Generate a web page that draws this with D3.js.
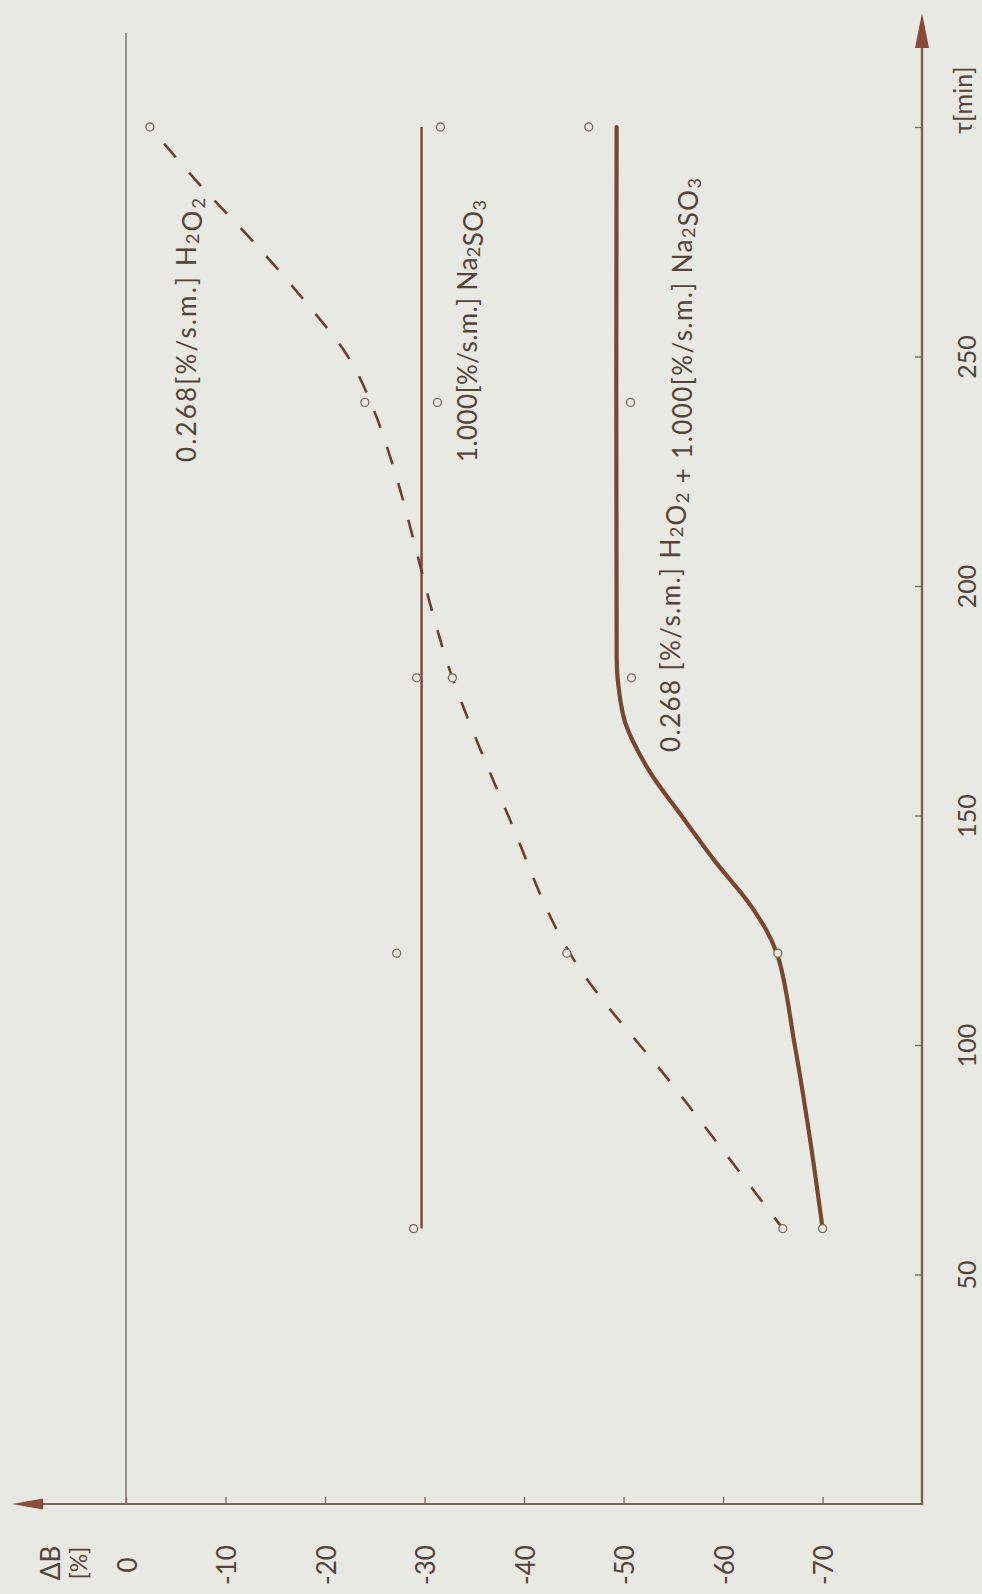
<!DOCTYPE html>
<html>
<head>
<meta charset="utf-8">
<script src="https://cdn.jsdelivr.net/npm/d3@7/dist/d3.min.js"></script>
<style>
  html, body { margin: 0; padding: 0; background: #e9e9e4; }
  svg { display: block; }
  text { font-family: Lato, "Open Sans", sans-serif; fill: #54443a; }
</style>
</head>
<body>
<svg id="chart" width="982" height="1594"></svg>
<script>
// Sampling times, min
const tau = [60, 120, 180, 240, 300];

// Measured brightness change ΔB, %
const obsH2O2   = [-66.0, -44.3, -32.8, -24.0, -2.4];
const obsNa2SO3 = [-28.9, -27.2, -29.2, -31.3, -31.6];
const obsMix    = [-70.0, -65.5, -50.8, -50.7, -46.5];

// Smoothed trend curves
const fitH2O2Tau = [60, 90, 120, 150, 180, 195, 210, 225, 240, 250, 262, 275, 287, 300];
const fitH2O2    = [-66.0, -55.4, -44.6, -38.4, -32.8, -30.7, -28.9, -27.0, -24.6, -22.3, -18.0, -12.8, -7.6, -2.4];

const fitNa2SO3Tau = [60, 300];
const fitNa2SO3    = [-29.7, -29.7];

const fitMixTau = [60, 80, 100, 120, 130, 140, 150, 160, 170, 180, 190, 300];
const fitMix    = [-70.0, -68.7, -67.2, -65.4, -62.9, -59.2, -55.8, -52.5, -50.2, -49.4, -49.3, -49.3];

// Axis ticks
const dbTicks  = [0, -10, -20, -30, -40, -50, -60, -70];
const tauTicks = [50, 100, 150, 200, 250, 300];

const bg = "#e9e9e4";
const brown = "#7a4630";
const axisCol = "#7a665a";

const svg = d3.select("#chart");

// ΔB runs horizontally (leftwards = 0), τ runs vertically (upwards)
const x = d3.scaleLinear().domain([0, -70]).range([126, 822.6]);
const y = d3.scaleLinear().domain([0, 300]).range([1504, 127]);

const x0 = x(0), xAxisY = y(0), tauAxisX = 922;

// Zero line of ΔB
svg.append("line")
  .attr("x1", x0).attr("x2", x0)
  .attr("y1", 33).attr("y2", xAxisY)
  .attr("stroke", "#6f6660").attr("stroke-width", 1.3);

// ΔB axis (bottom)
const axB = svg.append("g")
  .attr("transform", `translate(0,${xAxisY})`)
  .call(d3.axisBottom(x).tickValues(dbTicks).tickSizeInner(-7).tickSizeOuter(0).tickFormat(d => d));
axB.select(".domain").remove();
axB.selectAll(".tick line").attr("stroke", axisCol).attr("stroke-width", 1.3);
axB.selectAll(".tick text")
  .attr("y", null).attr("dy", null)
  .attr("transform", "translate(0,61) rotate(-90)")
  .attr("text-anchor", "middle")
  .attr("dominant-baseline", "central")
  .style("font-size", "26px")
  .style("fill", "#54443a");

svg.append("line")
  .attr("x1", 30).attr("x2", tauAxisX)
  .attr("y1", xAxisY).attr("y2", xAxisY)
  .attr("stroke", axisCol).attr("stroke-width", 2);
svg.append("path")
  .attr("d", `M12,${xAxisY} L43,${xAxisY - 5.5} L43,${xAxisY + 5.5} Z`)
  .attr("fill", "#8a4a3a");

// τ axis (right)
const axT = svg.append("g")
  .attr("transform", `translate(${tauAxisX},0)`)
  .call(d3.axisRight(y).tickValues(tauTicks).tickSizeInner(-7).tickSizeOuter(0)
    .tickFormat(d => d === 300 ? "" : d));
axT.select(".domain").remove();
axT.selectAll(".tick line").attr("stroke", axisCol).attr("stroke-width", 1.3);
axT.selectAll(".tick text")
  .attr("x", null).attr("dy", null)
  .attr("transform", "translate(44,0) rotate(-90)")
  .attr("text-anchor", "middle")
  .attr("dominant-baseline", "central")
  .style("font-size", "25px")
  .style("fill", "#54443a");

svg.append("line")
  .attr("x1", tauAxisX).attr("x2", tauAxisX)
  .attr("y1", xAxisY + 1).attr("y2", 40)
  .attr("stroke", "#7d5e50").attr("stroke-width", 2.4);
svg.append("path")
  .attr("d", `M${tauAxisX},13 L${tauAxisX - 7},48 L${tauAxisX + 7},48 Z`)
  .attr("fill", "#8a4a3a");

// Axis titles
function rotText(cx, cy, anchor, size) {
  return svg.append("text")
    .attr("transform", `translate(${cx},${cy}) rotate(-90)`)
    .attr("text-anchor", anchor)
    .attr("dominant-baseline", "central")
    .style("font-size", size + "px");
}
rotText(50, 1563, "middle", 26).text("ΔB");
rotText(78, 1563, "middle", 23).text("[%]");
rotText(962, 100, "middle", 25).text("τ[min]");

// Trend curves
const line = d3.line()
  .x(d => x(d[1]))
  .y(d => y(d[0]))
  .curve(d3.curveCatmullRom.alpha(0.5));

svg.append("path")
  .datum(fitNa2SO3Tau.map((t, i) => [t, fitNa2SO3[i]]))
  .attr("d", line)
  .attr("fill", "none").attr("stroke", brown).attr("stroke-width", 2.4);

svg.append("path")
  .datum(fitH2O2Tau.map((t, i) => [t, fitH2O2[i]]))
  .attr("d", line)
  .attr("fill", "none").attr("stroke", "#6e4030").attr("stroke-width", 2.6)
  .attr("stroke-dasharray", "18,20")
  .attr("stroke-dashoffset", 4);

svg.append("path")
  .datum(fitMixTau.map((t, i) => [t, fitMix[i]]))
  .attr("d", line)
  .attr("fill", "none").attr("stroke", brown).attr("stroke-width", 4.2)
  .attr("stroke-linecap", "round");

// Measured points
[obsH2O2, obsNa2SO3, obsMix].forEach(series => {
  svg.append("g").selectAll("circle")
    .data(tau.map((t, i) => [t, series[i]]))
    .join("circle")
    .attr("cx", d => x(d[1]))
    .attr("cy", d => y(d[0]))
    .attr("r", 4)
    .attr("fill", bg)
    .attr("stroke", "#7b6a5e")
    .attr("stroke-width", 1.3);
});

// Series labels with subscripts
function seriesLabel(cx, startY, len, parts) {
  const t = svg.append("text")
    .attr("transform", `translate(${cx},${startY}) rotate(-90)`)
    .attr("text-anchor", "start")
    .attr("dominant-baseline", "central")
    .attr("textLength", len)
    .attr("lengthAdjust", "spacing")
    .style("font-size", "26px");
  parts.forEach(p => {
    if (p.sub) {
      t.append("tspan").attr("dy", 6).style("font-size", "18px").text(p.sub);
      t.append("tspan").attr("dy", -6).text("");
    } else {
      t.append("tspan").text(p.t);
    }
  });
}
seriesLabel(186, 462, 264, [{t: "0.268[%/s.m.] H"}, {sub: "2"}, {t: "O"}, {sub: "2"}]);
seriesLabel(467, 462, 262, [{t: "1.000[%/s.m.] Na"}, {sub: "2"}, {t: "SO"}, {sub: "3"}]);
seriesLabel(670, 752, 574, [{t: "0.268 [%/s.m.] H"}, {sub: "2"}, {t: "O"}, {sub: "2"},
                            {t: " + 1.000[%/s.m.] Na"}, {sub: "2"}, {t: "SO"}, {sub: "3"}]);
</script>
</body>
</html>
